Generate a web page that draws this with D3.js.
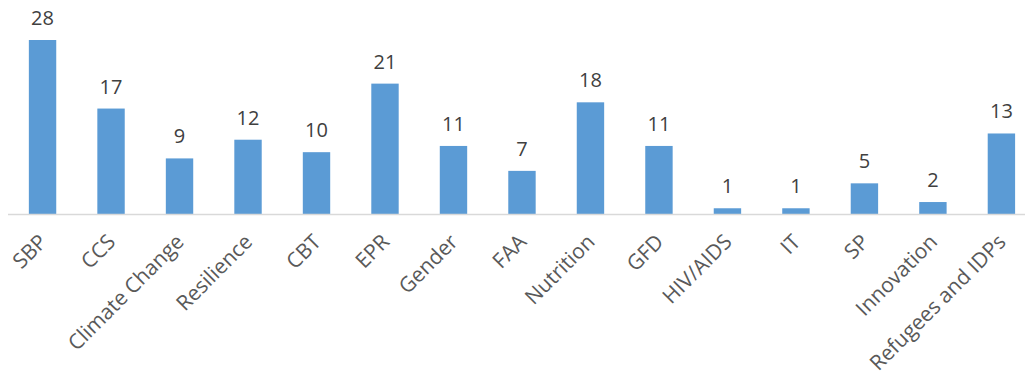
<!DOCTYPE html>
<html>
<head>
<meta charset="utf-8">
<script src="https://cdn.jsdelivr.net/npm/d3@7"></script>
<style>
  body { margin: 0; background: #fff; }
  svg { display: block; font-family: 'Open Sans', sans-serif; }
</style>
</head>
<body>
<div class="chart"></div>
<script>
'use strict';

// Data
const categories = ['SBP', 'CCS', 'Climate Change', 'Resilience', 'CBT', 'EPR', 'Gender', 'FAA',
  'Nutrition', 'GFD', 'HIV/AIDS', 'IT', 'SP', 'Innovation', 'Refugees and IDPs'];
const counts = [28, 17, 9, 12, 10, 21, 11, 7, 18, 11, 1, 1, 5, 2, 13];

// Initialize
const w = 1025;
const h = 378;
const barColor = '#5B9BD5';
const baseY = 214.5;

const svg = d3.select('.chart')
  .append('svg')
  .attr('width', w)
  .attr('height', h);

// Scales
const xScale = d3.scaleBand()
  .domain(categories)
  .range([8.3, 8.3 + 68.49 * categories.length])
  .paddingInner(0.6)
  .paddingOuter(0.3);

const yScale = d3.scaleLinear()
  .domain([0, 28])
  .range([baseY, 40]);

// Bars
svg.selectAll('rect.bar')
  .data(counts)
  .enter()
  .append('rect')
  .attr('class', 'bar')
  .attr('x', (d, i) => xScale(categories[i]))
  .attr('y', d => yScale(d))
  .attr('width', xScale.bandwidth())
  .attr('height', d => baseY - yScale(d))
  .attr('fill', barColor);

// Axis line
const xAxis = d3.axisBottom(xScale).tickSize(0).tickFormat('');
const axisG = svg.append('g')
  .attr('transform', `translate(0, ${baseY})`)
  .call(xAxis);
axisG.select('.domain')
  .attr('d', `M8,0H${w}`)
  .attr('stroke', '#D9D9D9')
  .attr('stroke-width', 1.5);

// Category labels (rotated)
svg.selectAll('text.cat')
  .data(categories)
  .enter()
  .append('text')
  .attr('class', 'cat')
  .attr('transform', d => `translate(${xScale(d) + xScale.bandwidth() / 2 - 5}, ${baseY + 18}) rotate(-45)`)
  .attr('text-anchor', 'end')
  .attr('dy', '0.72em')
  .attr('font-size', 21)
  .attr('fill', '#595959')
  .text(d => d);

// Value labels
svg.selectAll('text.val')
  .data(counts)
  .enter()
  .append('text')
  .attr('class', 'val')
  .attr('x', (d, i) => xScale(categories[i]) + xScale.bandwidth() / 2)
  .attr('y', d => yScale(d) - 15)
  .attr('text-anchor', 'middle')
  .attr('font-size', 20)
  .attr('fill', '#404040')
  .text(d => d);
</script>
</body>
</html>
